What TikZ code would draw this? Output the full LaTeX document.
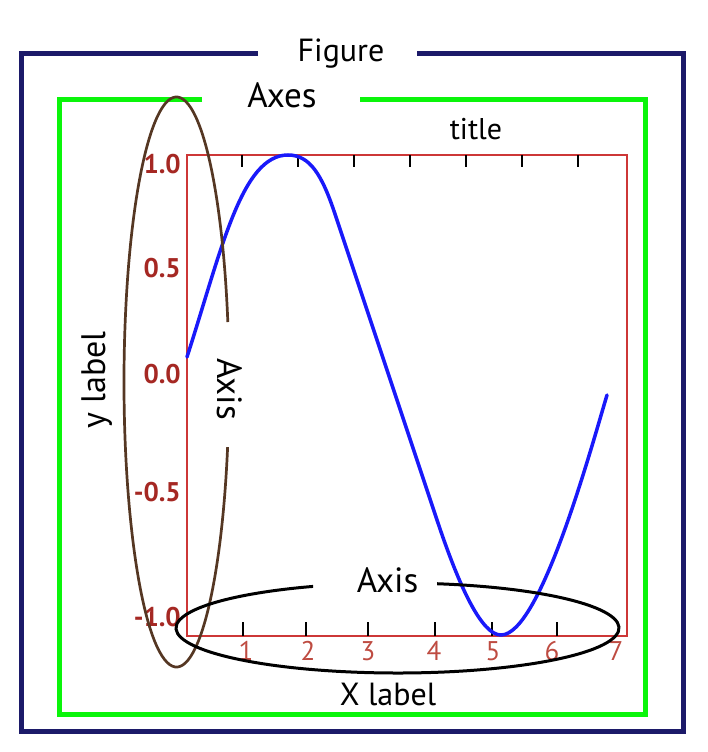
\documentclass[tikz,border=0pt]{standalone}
\usepackage{fontspec}
\setmainfont{PT Sans}
\usetikzlibrary{calc}
\definecolor{figblue}{RGB}{28,26,105}
\definecolor{axgreen}{RGB}{10,245,10}
\definecolor{boxred}{RGB}{205,55,55}
\definecolor{ytext}{RGB}{165,40,35}
\definecolor{xtext}{RGB}{190,75,65}
\definecolor{sinblue}{RGB}{25,25,250}
\definecolor{axbrown}{RGB}{85,55,35}
\newcommand{\fs}[1]{\fontsize{#1}{#1}\selectfont}
\tikzset{
    framepath/.style={line width=5pt, line cap=butt, line join=miter},
    bigtext/.style={anchor=base, inner sep=0pt, font=\fs{33}},
    ylab/.style={anchor=base east, inner sep=0pt, text=ytext, font=\fs{27}\bfseries},
    xlab/.style={anchor=base, inner sep=0pt, text=xtext, font=\fs{27}},
    tickmark/.style={line width=2.5pt},
    ellip/.style={line width=3pt},
}
\begin{document}
\begin{tikzpicture}[x=1pt, y=-1pt]
    \useasboundingbox (0,0) rectangle (708,752);

    % Figure frame, open at the top for its label
    \node[bigtext, font=\fs{32}] (fig) at (341,62) {Figure};
    \coordinate (fl) at (258,54);
    \coordinate (fr) at (417,54);
    \draw[framepath, figblue] (fl) -| (21,731) -| (683,54) -- (fr);

    % Axes frame
    \node[bigtext, font=\fs{35}] (axes) at (282,107) {Axes};
    \coordinate (al) at (202,99);
    \coordinate (ar) at (360,99);
    \draw[framepath, axgreen] (al) -| (59,714) -| (645,99) -- (ar);

    \node[bigtext, font=\fs{30}] (title) at (476,139) {title};

    % plot box and ticks
    \draw[boxred, line width=2.7pt] (187,155) rectangle (627,636);
    \foreach \x in {242,298,...,578}
        \draw[tickmark] (\x,155) -- (\x,167);
    \foreach \x/\l/\lx in {243/1/246, 306/2/308, 368/3/368, 435/4/434, 492/5/493, 557/6/552}{
        \draw[tickmark] (\x,622) -- (\x,636);
        \node[xlab] (xt\l) at (\lx,660) {\l};
    }
    \node[xlab] (xt7) at (616,660) {7};
    \foreach \v/\y [count=\i] in {1.0/173, 0.5/277, 0.0/383, -0.5/501, -1.0/626}
        \node[ylab] (yt\i) at (181,\y) {\v};

    % the sine curve
    \coordinate (c0) at (187,357);
    \coordinate (cmax) at (288,155);
    \coordinate (cl1) at (335,214);
    \coordinate (cl2) at (437,520);
    \coordinate (cmin) at (501,635);
    \coordinate (cend) at (607,395);
    \draw[sinblue, line width=3.5pt, line cap=round]
        (c0) .. controls (221.5,250) and (241.5,155) .. (cmax)
        .. controls (310,155) and (322,175) .. (cl1) -- (cl2)
        .. controls (460,589) and (482,635) .. (cmin)
        .. controls (540,635) and (590,452) .. (cend);

    \node[bigtext, font=\fs{32}] (xlabel) at (388,705) {X label};
    \node[bigtext, font=\fs{34}, rotate=90] (ylabel) at (105,380) {y label};

    % y axis ellipse
    \coordinate (yc) at (176.5,382);
    \draw[ellip, axbrown, line width=2.7pt] ([shift={(13.2:52.5 and 285)}]yc)
        arc[start angle=13.2, end angle=347.85, x radius=52.5, y radius=285];
    \node[bigtext, font=\fs{35}, rotate=-90] (yaxis) at (217,389) {Axis};

    % x axis ellipse
    \coordinate (xc) at (397.5,628);
    \draw[ellip] ([shift={(280.3:221.5 and 45)}]xc)
        arc[start angle=280.3, end angle=607.6, x radius=221.5, y radius=45];
    \node[bigtext, font=\fs{35}] (xaxis) at (387.5,592) {Axis};
\end{tikzpicture}
\end{document}
